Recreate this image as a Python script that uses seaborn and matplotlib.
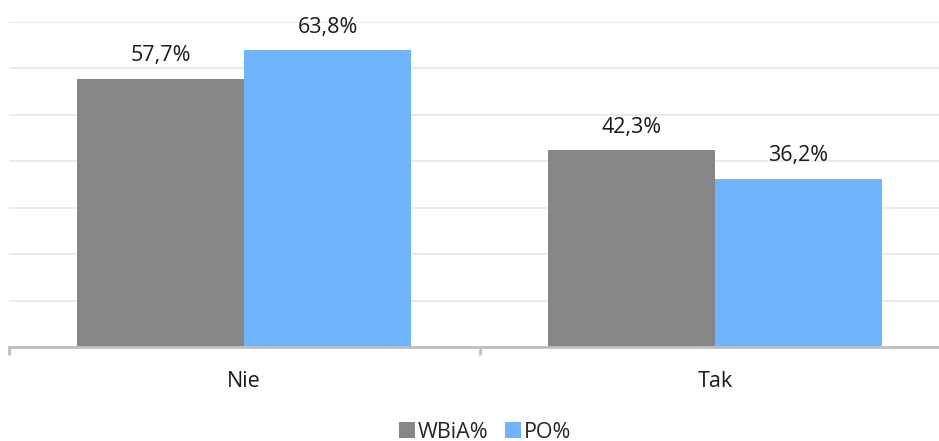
import matplotlib
matplotlib.use("Agg")
import matplotlib.pyplot as plt
import seaborn as sns
import pandas as pd
from matplotlib.patches import Patch

categories = ["Nie", "Tak"]
series_names = ["WBiA%", "PO%"]
wbia = [57.7, 42.3]
po = [63.8, 36.2]
labels_wbia = ["57,7%", "42,3%"]
labels_po = ["63,8%", "36,2%"]
colors = ["#868686", "#6EB5FD"]

df = pd.DataFrame({
    "cat": categories * 2,
    "series": [series_names[0]] * 2 + [series_names[1]] * 2,
    "val": wbia + po,
})

sns.set_theme(style="white")
plt.rcParams['font.family'] = ['Open Sans', 'DejaVu Sans']

W, H = 939, 441
fig = plt.figure(figsize=(W / 100, H / 100), dpi=100)
left = 8.5 / W
right = 950.5 / W
bottom = 94 / H
top = (441 - 21.5) / H
ax = fig.add_axes([left, bottom, right - left, top - bottom])

sns.barplot(data=df, x="cat", y="val", hue="series", palette=colors,
            width=0.71, gap=0, saturation=1, ax=ax, legend=False,
            edgecolor="none", linewidth=0)

ax.set_xlim(-0.5, 1.5)
ax.set_ylim(0, 70)
ax.set_yticks(range(0, 71, 10))
ax.yaxis.grid(True, color="#EBEBEB", linewidth=1.5)
ax.set_axisbelow(True)
ax.tick_params(axis="y", left=False, labelleft=False)
for s in ["top", "right", "left"]:
    ax.spines[s].set_visible(False)
ax.spines["bottom"].set_color("#BFBFBF")
ax.spines["bottom"].set_linewidth(2)
ax.set_xlabel("")
ax.set_ylabel("")
ax.set_xticks([0, 1])
ax.set_xticklabels(categories, fontsize=15.5, color="#1a1a1a")
ax.tick_params(axis="x", which="major", bottom=True, length=0, pad=17)
ax.set_xticks([-0.5, 0.5, 1.5], minor=True)
ax.tick_params(axis="x", which="minor", bottom=True, length=6, width=2, color="#BFBFBF")

all_labels = [labels_wbia, labels_po]
for container, labs in zip(ax.containers, all_labels):
    ax.bar_label(container, labels=labs, padding=9, fontsize=15.5, color="#1a1a1a")

handles = [Patch(facecolor=c, edgecolor="none") for c in colors]
fig.legend(handles, series_names, loc="center", bbox_to_anchor=(485 / W, 1 - 432 / H),
           ncol=2, frameon=False, fontsize=15.5, handlelength=0.75, handleheight=0.75,
           handletextpad=0.15, columnspacing=0.75, borderaxespad=0)

fig.savefig("out.png", dpi=100)
